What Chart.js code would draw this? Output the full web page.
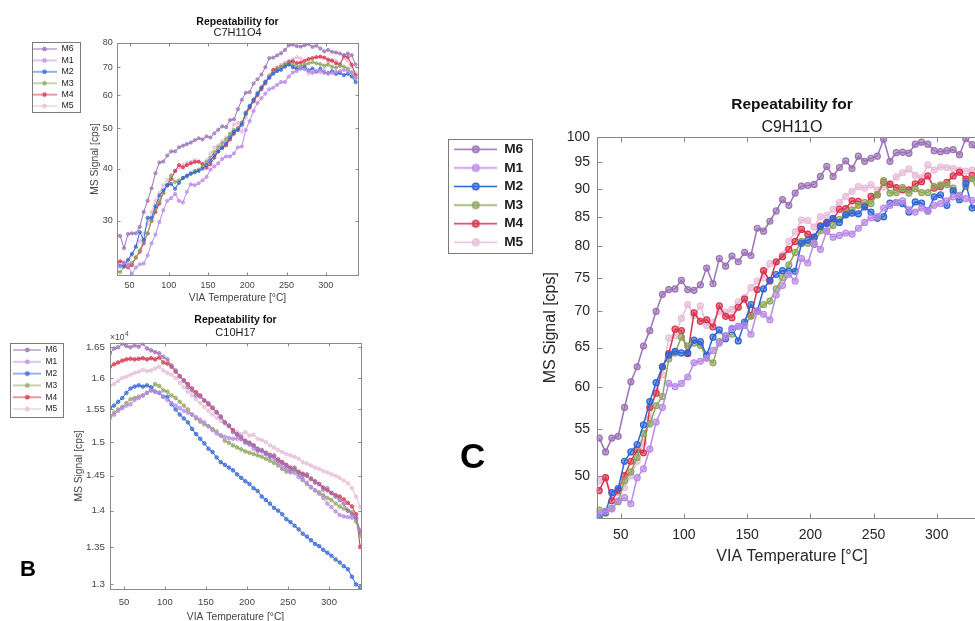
<!DOCTYPE html>
<html><head><meta charset="utf-8">
<script src="https://cdn.jsdelivr.net/npm/chart.js@4.4.0/dist/chart.umd.min.js"></script>
<style>
html,body{margin:0;padding:0;background:#fff;width:975px;height:621px;overflow:hidden;position:relative;}
.panel{position:absolute;}
.panel canvas{display:block;}
.letter{position:absolute;font-family:"Liberation Sans",Arial,sans-serif;font-weight:bold;color:#000;line-height:1;}
</style></head><body>
<div class="panel" style="left:0;top:0;width:370px;height:310px"><canvas id="chartA" width="370" height="310" style="width:370px;height:310px"></canvas></div>
<div class="panel" style="left:0;top:300px;width:370px;height:325px"><canvas id="chartB" width="370" height="325" style="width:370px;height:325px"></canvas></div>
<div class="panel" style="left:440px;top:60px;width:558px;height:515px"><canvas id="chartC" width="558" height="515" style="width:558px;height:515px"></canvas></div>
<div class="letter" style="left:20px;top:558px;font-size:22px">B</div>
<div class="letter" style="left:460px;top:438px;font-size:35px">C</div>
<script>
// ---------- data ----------
const temps = [33,38,43,48,53,58,63,68,73,78,83,88,93,98,103,108,113,118,123,128,133,138,143,148,153,158,163,168,173,178,183,188,193,198,203,208,213,218,223,228,233,238,243,248,253,258,263,268,273,278,283,288,293,298,303,308,313,318,323,328,333,338];
const seriesNames = ['M6','M1','M2','M3','M4','M5'];
const xTickValues = [50,100,150,200,250,300];

// Panel A: C7H11O4
const aM6 = [27.8,27.6,25.8,27.9,28,28,29,31.5,33.5,35.9,39,41.4,41.6,43,44,44,45,45.4,45.8,46.2,46.8,47.3,47,47.8,47.5,48.6,49.6,50.5,50.3,52.3,52.5,55.5,58.5,60.8,61,64,65.5,67.2,70,73.6,73.8,74.7,75.6,77,79,79.3,78.6,78.4,79,79.6,78.3,78.8,77.6,76.4,77,76.2,75.9,75.5,74.8,75.5,74.8,71];
const aM1 = [23.5,23.3,23.8,23.5,22.4,23.2,23.6,23.7,24.8,26.5,27.8,29.8,31.8,33.5,34,34.8,33.5,33.2,35.2,36.7,36.5,36.9,37.5,38.2,39.8,40.5,41.2,42.2,42.8,42.8,43.5,45,45.2,49.5,52,55,57.5,59,60.5,62,62.5,63.5,64.5,64.5,66.5,68,68.5,69.5,69.2,68.5,68,68.3,68.6,68,67.5,67.8,68.2,68.5,69,68.6,68,66];
const aM2 = [23.2,23.4,23.4,24.2,25,26,28.2,27,30.5,30.5,32.5,34.5,35.5,36.5,36.8,35.8,37,38,38.5,39,39.2,39.5,40,40.8,41.8,43,44,45,46,47.5,49,49.5,51,54.5,56.5,58.5,60.5,62.5,64.5,66,67.5,68.5,69,70.2,71,70,69.3,69.5,70,68.8,69.5,68.3,69.5,68,67.8,68.5,67.5,67.8,67,67.5,66.5,64.5];
const aM3 = [22.8,22.6,23.3,23.5,23.8,24.5,25.5,26.8,28,30,32,33.5,35,36.5,38.5,37.2,37.5,38,38.3,38.8,39.5,39.8,40.5,41.5,42.5,43.8,45,46,47,48.5,49.5,49.8,51.5,54,56.5,58.5,60.5,62.5,64.5,66.5,68,69.3,70.3,71,71.5,71,70.3,70.5,71,71.5,72,71.5,71.2,70.6,71,70.2,69.8,70.5,70.2,69.5,68,66];
const aM4 = [23.5,24,23.8,23.2,23.5,24.5,25.3,26.5,28,30,31.5,33,35,36.5,37.8,39.5,40.8,40.3,40.8,41.2,41.5,41.6,41,40.2,41,42.5,44,44.8,45.5,47,48.5,50,51.5,54,56,58,60,62,64,66.5,69,69.5,70,71,72,72.3,71.6,71.8,72.5,73.2,73.6,74,74.2,73.8,73,72.5,71.5,71,74.5,74,71,67];
const aM5 = [24,23.5,23.2,23.8,24.8,26,26.8,28,29.5,31.5,33.5,35,36.5,37.5,38.5,39.5,40.2,40.8,41.3,41.5,42,41.5,41.2,41.8,43.5,45,45.5,46.5,47.5,48.5,51,51.5,49,53,56,58.5,61,63,65,67,68.5,70,71,71.8,72.5,73.2,74,73.5,71,67.5,67.8,68.5,68,69,72,73,72.5,71.5,73.5,72.5,70,68];
const aTickValues = [30,40,50,60,70,80];
const aTickLabels = ['30','40','50','60','70','80'];

// Panel B: C10H17
const bM6 = [16400,16480,16500,16560,16520,16500,16530,16510,16560,16480,16450,16420,16400,16340,16300,16200,16120,16020,15950,15850,15800,15720,15700,15640,15600,15530,15450,15380,15300,15250,15150,15120,15080,15000,14980,14950,14870,14880,14830,14780,14800,14720,14680,14640,14600,14620,14550,14500,14520,14450,14400,14380,14300,14320,14250,14200,14150,14100,14000,13950,13900,13700];
const bM1 = [15370,15420,15480,15520,15560,15580,15650,15680,15720,15760,15800,15780,15760,15700,15650,15600,15560,15520,15480,15450,15420,15380,15340,15300,15240,15180,15130,15100,15080,15060,15050,15050,15040,14990,14960,14900,14880,14860,14820,14790,14750,14680,14620,14590,14560,14540,14480,14440,14400,14340,14290,14240,14180,14100,14050,13990,13940,13920,13910,13900,13890,13730];
const bM2 = [15530,15560,15620,15680,15760,15830,15860,15880,15860,15880,15850,15780,15760,15700,15700,15580,15500,15420,15360,15300,15200,15120,15050,14980,14900,14850,14770,14700,14660,14620,14580,14520,14470,14420,14380,14320,14280,14200,14150,14100,14040,14000,13950,13880,13840,13790,13740,13680,13640,13590,13540,13510,13460,13420,13380,13330,13290,13240,13200,13100,13000,12960];
const bM3 = [15400,15450,15500,15540,15600,15660,15680,15700,15720,15760,15800,15900,15870,15800,15780,15720,15680,15620,15560,15500,15420,15360,15310,15270,15240,15200,15160,15100,15020,14990,14950,14920,14890,14860,14840,14820,14800,14780,14750,14720,14690,14650,14600,14560,14550,14600,14520,14440,14380,14330,14290,14260,14220,14180,14150,14100,14060,14030,14000,13980,13850,13650];
const bM4 = [16180,16220,16250,16280,16300,16310,16300,16310,16320,16300,16320,16300,16330,16250,16230,16180,16100,16030,15960,15900,15830,15770,15720,15640,15580,15520,15460,15390,15300,15250,15180,15110,15050,15020,14990,14950,14900,14870,14840,14810,14780,14740,14700,14660,14620,14580,14560,14530,14500,14460,14420,14380,14330,14290,14250,14220,14200,14160,14110,14060,13950,13500];
const bM5 = [15880,15900,15950,16000,16020,16050,16080,16100,16130,16110,16120,16150,16180,16120,16080,16050,16000,15920,15850,15780,15720,15660,15600,15540,15480,15420,15370,15320,15280,15230,15180,15150,15120,15150,15100,15110,15050,15030,15000,14950,14920,14880,14850,14820,14800,14780,14750,14700,14680,14650,14620,14600,14570,14550,14520,14500,14470,14430,14390,14320,14200,14050];
const bTickValues = [13000,13500,14000,14500,15000,15500,16000,16500];
const bTickLabels = ['1.3','1.35','1.4','1.45','1.5','1.55','1.6','1.65'];

// Panel C: C9H11O
const cM6 = [54,52.5,54,54.2,57.5,60.6,62.5,65.2,67.3,70,72.5,73.2,73.3,74.6,73.2,73.1,73.9,76.5,74.1,78,76.8,78.4,77.5,79,78.5,83,82.5,84.2,86,88,87,89.2,90.5,90.6,90.8,92.3,94.2,92.3,94,95.3,93.8,96.2,95.2,95.8,96.2,99.6,95.2,96.9,97,96.8,98.6,99,98.6,97.3,97.1,97.3,97.5,96.5,99.7,98.5,97,95];
const cM1 = [46.3,46.5,46.7,47.5,47.8,47.2,49.8,50.7,52.8,55.8,57.5,60.4,60,60.4,61.2,63,63.2,63.6,64.6,65.6,66.6,67.6,67.9,68,66.8,70,69.6,68.8,72.4,73.8,75.5,74.5,78,77.3,80.5,79.5,82.5,81.5,81.8,82.2,82,83,84,84.8,85,86.5,87,87.5,87.8,86.2,85.8,86.5,86,87,87.3,87.8,88.5,88.8,88.2,87.9,87.5,87];
const cM2 = [45.9,46.4,48.3,48.7,51.5,52.5,53.3,55.5,58.2,60.5,62.5,64,64.5,64.3,64.3,66,65.8,64,66.4,67.4,66.2,67.5,65.9,68.5,71,70,73.3,74.6,75.5,76.1,76,76,80.5,81,81.5,83.3,83.8,84.7,84,85.3,85.6,85.5,86.7,85.8,84.7,85,87.4,87.5,87.3,85.8,87.6,87.4,86,88.5,88.9,87,89.6,88,91,86.5,87,86.5];
const cM3 = [46.6,46.3,46.8,47.4,49.5,50.4,51.9,54.5,55.6,57.7,58.8,63.5,64.3,66.4,65.2,65.6,65.3,63.7,63,65.8,66.6,66.8,67.9,68.1,69.3,70.1,71,71.5,73.3,75,77,79,80.8,80.5,80.3,82.6,82.5,83.5,84.5,85.5,86.2,87,87.5,87.3,88.9,91.5,89.2,89.3,90.2,89.2,90,89.3,89.3,90.4,90.7,90.8,90.1,88.6,90.4,91.9,89,88.5];
const cM4 = [48.5,49.8,47.5,48.5,50,51.5,52.7,52.4,57.5,59.2,62.5,64.2,67.5,67.3,64.2,69.8,68.6,68.8,67.8,70.8,69.3,69.1,70.6,71.8,69.4,73.2,76.1,74.5,77.5,78.3,79.5,80.8,82.8,82,81.5,83.4,84,84.5,86.3,86.4,87.8,87.7,87,88.6,88.9,91.2,90.8,90.2,89.8,89.8,90.9,91.3,92.4,90.1,90.4,91.2,92.4,93.1,91.8,92.5,91,90];
const cM5 = [49.5,49.8,48.2,48.3,48.8,50,51.5,53.5,56.2,59.5,61.5,66.3,66.6,69,71,69.4,70.8,68,68.4,70,69.9,70.3,71.4,72,73.5,74.5,75,77.2,77.4,78.6,80.8,82.4,84.4,84.3,83.2,85,85.2,86.3,87.5,88.6,89.5,90.4,90.1,90.7,89.8,90.3,91,92.2,93,93.7,92.5,92.1,94.5,93.5,94.1,94,93.8,93.5,93.3,93.5,94,93];
const cTickValues = [50,55,60,65,70,75,80,85,90,95,100];
const cTickLabels = ['50','55','60','65','70','75','80','85','90','95','100'];

// ---------- styling ----------
const seriesColors = ['#9b72b5','#b98ae8','#2f64d6','#8ea55c','#d8334d','#e7bcd9'];
const FONT = '"Liberation Sans", Arial, Helvetica, sans-serif';
Chart.defaults.font.family = FONT;

function legendIcon(color, w, r, lw) {
  const c = document.createElement('canvas');
  const h = Math.ceil(2 * r + 4);
  c.width = w; c.height = h;
  const g = c.getContext('2d');
  g.strokeStyle = color; g.lineWidth = lw;
  g.beginPath(); g.moveTo(0, h / 2); g.lineTo(w, h / 2); g.stroke();
  g.beginPath(); g.arc(w / 2, h / 2, r, 0, Math.PI * 2);
  g.fillStyle = color + '99'; g.fill(); g.stroke();
  return c;
}

const framePlugin = {
  id: 'frame',
  afterLayout(chart, args, o) {
    const lg = chart.legend, s = o.legendPos;
    if (!lg || !s) return;
    lg.left = s.left; lg.top = s.top; lg.right = s.right; lg.bottom = s.top + 1000;
    lg.width = s.right - s.left; lg.height = 1000;
  },
  afterDraw(chart, args, o) {
    const {ctx, chartArea: a, scales} = chart;
    ctx.save();
    ctx.strokeStyle = o.color; ctx.lineWidth = 1;
    const L = Math.round(a.left) + 0.5, T = Math.round(a.top) + 0.5;
    const R = Math.round(a.right) + 0.5, B = Math.round(a.bottom) + 0.5;
    ctx.strokeRect(L, T, R - L, B - T);
    ctx.beginPath();
    xTickValues.forEach(v => {
      const p = Math.round(scales.x.getPixelForValue(v)) + 0.5;
      ctx.moveTo(p, B); ctx.lineTo(p, B - o.tickLen);
      ctx.moveTo(p, T); ctx.lineTo(p, T + o.tickLen);
    });
    o.yTicks.forEach(v => {
      const p = Math.round(scales.y.getPixelForValue(v)) + 0.5;
      ctx.moveTo(L, p); ctx.lineTo(L + o.tickLen, p);
      ctx.moveTo(R, p); ctx.lineTo(R - o.tickLen, p);
    });
    ctx.stroke();
    const b = o.legendBox;
    ctx.strokeStyle = o.legendColor;
    ctx.strokeRect(Math.round(b[0]) + 0.5, Math.round(b[1]) + 0.5, Math.round(b[2] - b[0]), Math.round(b[3] - b[1]));
    if (o.exponent) {
      const e = o.exponent;
      ctx.fillStyle = o.textColor;
      ctx.textBaseline = 'alphabetic'; ctx.textAlign = 'left';
      ctx.font = e.size + 'px ' + FONT;
      ctx.fillText('\u00d710', e.x, e.y);
      const w = ctx.measureText('\u00d710').width;
      ctx.font = e.supSize + 'px ' + FONT;
      ctx.fillText('4', e.x + w + 0.5, e.y - e.size * 0.45);
    }
    ctx.restore();
  }
};

function build(id, s) {
  const datasets = s.series.map((vals, i) => ({
    label: seriesNames[i],
    data: temps.map((t, k) => ({x: t, y: vals[k]})),
    borderColor: seriesColors[i],
    backgroundColor: seriesColors[i] + '99',
    pointBackgroundColor: seriesColors[i] + '99',
    pointBorderColor: seriesColors[i],
    pointBorderWidth: s.pointBorder,
    pointRadius: s.pointRadius,
    pointHoverRadius: s.pointRadius,
    borderWidth: s.lineWidth,
    tension: 0,
    fill: false
  }));
  const lg = s.legend;
  return new Chart(document.getElementById(id), {
    type: 'line',
    data: {datasets},
    plugins: [framePlugin],
    options: {
      responsive: false, animation: false, devicePixelRatio: 1, events: [],
      layout: {padding: {left: 0, top: s.padTop, right: s.padRight, bottom: 0}},
      scales: {
        x: {
          type: 'linear', position: 'bottom', min: s.xMin, max: s.xMax,
          grid: {display: false, drawTicks: false}, border: {display: false},
          afterBuildTicks: sc => { sc.ticks = xTickValues.map(v => ({value: v})); },
          afterFit: sc => { sc.height = s.xHeight; },
          ticks: {autoSkip: false, maxRotation: 0, padding: s.xTickPad, color: s.textColor,
            font: {size: s.tickSize, lineHeight: s.tickLH}, callback: v => String(v)},
          title: {display: true, text: 'VIA Temperature [\u00b0C]', color: s.textColor,
            font: {size: s.axisTitleSize, lineHeight: s.axisTitleLH}, padding: {top: 0, bottom: s.xTitlePad}}
        },
        y: {
          type: 'logarithmic', position: 'left', min: s.yMin, max: s.yMax,
          grid: {display: false, drawTicks: false}, border: {display: false},
          afterBuildTicks: sc => { sc.ticks = s.yTicks.map(v => ({value: v})); },
          afterFit: sc => { sc.width = s.yWidth; },
          ticks: {autoSkip: false, padding: s.yTickPad, color: s.textColor,
            font: {size: s.yTickSize || s.tickSize}, callback: (v, i) => s.yLabels[i]},
          title: {display: true, text: 'MS Signal [cps]', color: s.textColor,
            font: {size: s.axisTitleSize, lineHeight: s.axisTitleLH}, padding: {top: s.yTitlePad, bottom: 0}}
        }
      },
      plugins: {
        title: {display: true, text: 'Repeatability for', fullSize: false, color: '#111',
          font: {size: s.titleSize, weight: 'bold', lineHeight: s.titleLH}, padding: {top: 0, bottom: 0}},
        subtitle: {display: true, text: s.formula, fullSize: false, color: '#1a1a1a',
          font: {size: s.subSize, lineHeight: s.titleLH}, padding: {top: s.subPadTop, bottom: s.subPadBottom}},
        tooltip: {enabled: false},
        legend: {
          display: true, position: 'chartArea', align: 'start',
          labels: {
            usePointStyle: true, pointStyleWidth: lg.lineW, padding: lg.pad,
            font: {size: lg.font, weight: lg.weight || 'normal'}, color: '#222',
            generateLabels: chart => chart.data.datasets.map((ds, i) => ({
              text: ds.label, datasetIndex: i, hidden: false, fontColor: '#222',
              pointStyle: legendIcon(ds.borderColor, lg.lineW, lg.r, lg.lw),
              fillStyle: ds.borderColor, strokeStyle: ds.borderColor, lineWidth: 0
            }))
          }
        },
        frame: {
          color: '#8a8a8a', legendColor: '#7a7a7a', textColor: s.textColor, tickLen: s.tickLen, yTicks: s.yTicks,
          legendBox: lg.box,
          legendPos: {left: lg.left, top: lg.top, right: lg.box[2] + 6},
          exponent: s.exponent || null
        }
      }
    }
  });
}

build('chartA', {
  series: [aM6, aM1, aM2, aM3, aM4, aM5], formula: 'C7H11O4',
  xMin: 34, xMax: 341, yMin: 22.25, yMax: 80, yTicks: aTickValues, yLabels: aTickLabels,
  padTop: 16.2, padRight: 12, titleSize: 10.5, subSize: 11, titleLH: '11px', subPadTop: 0, subPadBottom: 4.8,
  yWidth: 117, xHeight: 35, tickSize: 9, tickLH: '11px', xTickPad: 5, yTickPad: 4.3,
  axisTitleSize: 10.3, axisTitleLH: '12px', xTitlePad: 5.7, yTitlePad: 89,
  textColor: '#444', tickLen: 3, pointRadius: 1.6, pointBorder: 0.8, lineWidth: 1,
  legend: {font: 8.8, lineW: 25, pad: 2.6, r: 1.8, lw: 1, left: 29.4, top: 42, box: [31.7, 42, 79.3, 112.3]}
});

build('chartB', {
  series: [bM6, bM1, bM2, bM3, bM4, bM5], formula: 'C10H17',
  xMin: 33, xMax: 339, yMin: 12940, yMax: 16576, yTicks: bTickValues, yLabels: bTickLabels,
  padTop: 14.5, padRight: 9, titleSize: 10.5, subSize: 11, titleLH: '11px', subPadTop: 1.7, subPadBottom: 4.5,
  yWidth: 110, xHeight: 36, tickSize: 9.5, yTickSize: 9.8, tickLH: '11px', xTickPad: 7.5, yTickPad: 5,
  axisTitleSize: 10.3, axisTitleLH: '12px', xTitlePad: 2, yTitlePad: 73.5,
  textColor: '#444', tickLen: 3, pointRadius: 1.8, pointBorder: 0.8, lineWidth: 1,
  exponent: {x: 110, y: 40, size: 8.5, supSize: 6.5},
  legend: {font: 8.4, lineW: 28, pad: 3.4, r: 1.9, lw: 1, left: 9.9, top: 42.4, box: [10, 42.7, 63.3, 117]}
});

build('chartC', {
  series: [cM6, cM1, cM2, cM3, cM4, cM5], formula: 'C9H11O',
  xMin: 31, xMax: 340, yMin: 45.85, yMax: 100, yTicks: cTickValues, yLabels: cTickLabels,
  padTop: 35.6, padRight: 10.7, titleSize: 15.5, subSize: 16, titleLH: '18px', subPadTop: 4.5, subPadBottom: 1.2,
  yWidth: 156.7, xHeight: 57, tickSize: 14, tickLH: '17px', xTickPad: 8.5, yTickPad: 6.7,
  axisTitleSize: 16, axisTitleLH: '19px', xTitlePad: 8.5, yTitlePad: 101.5,
  textColor: '#262626', tickLen: 5, pointRadius: 3, pointBorder: 1.2, lineWidth: 1.5,
  legend: {font: 13.7, weight: 'bold', lineW: 43, pad: 4.9, r: 3.2, lw: 1.5, left: 9.4, top: 77.55, box: [8.3, 79, 92.3, 193.3]}
});
</script>
</body></html>
